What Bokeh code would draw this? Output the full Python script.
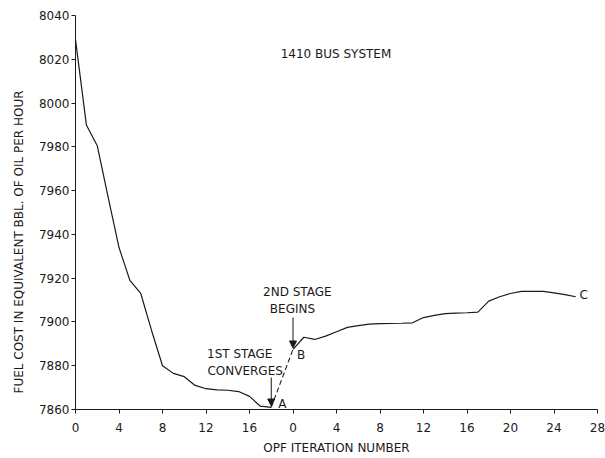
from bokeh.plotting import figure
from bokeh.models import FixedTicker, Arrow, NormalHead, Range1d, Title
from bokeh.core.properties import value
from bokeh.embed import file_html
from bokeh.resources import INLINE

# ---- data ----
stage1_iter = [0, 1, 2, 3, 4, 5, 6, 7, 8, 9, 10, 11, 12, 13, 14, 15, 16, 17, 18]
stage1_cost = [8029, 7990, 7980.5, 7957, 7934, 7919, 7913, 7896, 7880, 7876.5,
               7875, 7871, 7869.5, 7869, 7868.8, 7868.2, 7866, 7861.5, 7861]

stage2_iter = [0, 1, 2, 3, 4, 5, 6, 7, 8, 9, 10, 11, 12, 13, 14, 15, 16, 17, 18,
               19, 20, 21, 22, 23, 24, 25, 26]
stage2_cost = [7887.5, 7893, 7892, 7893.5, 7895.5, 7897.5, 7898.3, 7899, 7899.2,
               7899.3, 7899.4, 7899.6, 7902, 7903, 7903.8, 7904, 7904.2, 7904.5,
               7909.5, 7911.5, 7913, 7914, 7914, 7914, 7913.3, 7912.5, 7911.5]

stage2_start = 20  # axis position where 2nd-stage iteration 0 is drawn

x_tick_pos = [0, 4, 8, 12, 16, 20, 24, 28, 32, 36, 40, 44, 48]
x_tick_labels = ["0", "4", "8", "12", "16", "0", "4", "8", "12", "16", "20", "24", "28"]
y_ticks = [7860, 7880, 7900, 7920, 7940, 7960, 7980, 8000, 8020, 8040]

FONT = "DejaVu Sans"
INK = "#1a1a1a"

p = figure(width=605, height=458, output_backend="svg", toolbar_location=None,
           x_range=Range1d(0, 48), y_range=Range1d(7860, 8040),
           min_border_left=75, min_border_right=8, min_border_top=15,
           min_border_bottom=49)
p.outline_line_color = None
p.xgrid.visible = False
p.ygrid.visible = False
p.background_fill_color = "white"
p.border_fill_color = "white"

# axes
p.xaxis.ticker = FixedTicker(ticks=x_tick_pos)
p.xaxis.major_label_overrides = {pos: lab for pos, lab in zip(x_tick_pos, x_tick_labels)}
p.yaxis.ticker = FixedTicker(ticks=y_ticks)
for ax in (p.xaxis[0], p.yaxis[0]):
    ax.axis_line_color = INK
    ax.axis_line_width = 1
    ax.major_tick_line_color = INK
    ax.major_tick_in = 0
    ax.major_tick_out = 4
    ax.minor_tick_line_color = None
    ax.major_label_text_font = FONT
    ax.major_label_text_font_size = "12px"
    ax.major_label_text_color = INK
    ax.axis_label_text_font = FONT
    ax.axis_label_text_font_size = "12px"
    ax.axis_label_text_font_style = "normal"
    ax.axis_label_text_color = INK
p.xaxis.major_label_standoff = 9
p.xaxis.axis_label = "OPF ITERATION NUMBER"
p.xaxis.axis_label_standoff = 6
p.yaxis.major_label_standoff = 2

ytitle = Title(text="FUEL COST IN EQUIVALENT BBL. OF OIL PER HOUR", align="left",
               offset=16, text_font=FONT, text_font_size="12px",
               text_font_style="normal", text_color=INK, standoff=16,
               vertical_align="top")
p.add_layout(ytitle, "left")

# curves
x2 = [stage2_start + i for i in stage2_iter]
p.line(stage1_iter, stage1_cost, line_color=INK, line_width=1.2)
p.line(x2, stage2_cost, line_color=INK, line_width=1.2)
p.line([stage1_iter[-1], x2[0]], [stage1_cost[-1], stage2_cost[0]],
       line_color=INK, line_width=1.1, line_dash="5 3")

# arrows
head = dict(size=7, fill_color=INK, line_color=INK)
p.add_layout(Arrow(end=NormalHead(**head), x_start=x2[0], y_start=7902,
                   x_end=x2[0], y_end=stage2_cost[0] + 0.6,
                   line_color=INK, line_width=1))
p.add_layout(Arrow(end=NormalHead(**head), x_start=stage1_iter[-1], y_start=7874.6,
                   x_end=stage1_iter[-1], y_end=stage1_cost[-1] + 0.6,
                   line_color=INK, line_width=1))

# texts
txt = dict(text_font=value(FONT), text_font_size="12px", text_color=INK,
           text_align="center", text_baseline="middle")
p.text(x=[23.95], y=[8022.2], text=["1410 BUS SYSTEM"], **txt)
p.text(x=[20.4], y=[7913.5], text=["2ND STAGE"], **txt)
p.text(x=[19.95], y=[7905.7], text=["BEGINS"], **txt)
p.text(x=[15.1], y=[7885.4], text=["1ST STAGE"], **txt)
p.text(x=[15.6], y=[7877.6], text=["CONVERGES"], **txt)
p.text(x=[stage1_iter[-1]], y=[stage1_cost[-1]], text=["A"], x_offset=11, y_offset=-3, **txt)
p.text(x=[x2[0]], y=[stage2_cost[0]], text=["B"], x_offset=8, y_offset=6, **txt)
p.text(x=[x2[-1]], y=[stage2_cost[-1]], text=["C"], x_offset=8, y_offset=-2, **txt)

open("out.html", "w").write(file_html(p, INLINE))
